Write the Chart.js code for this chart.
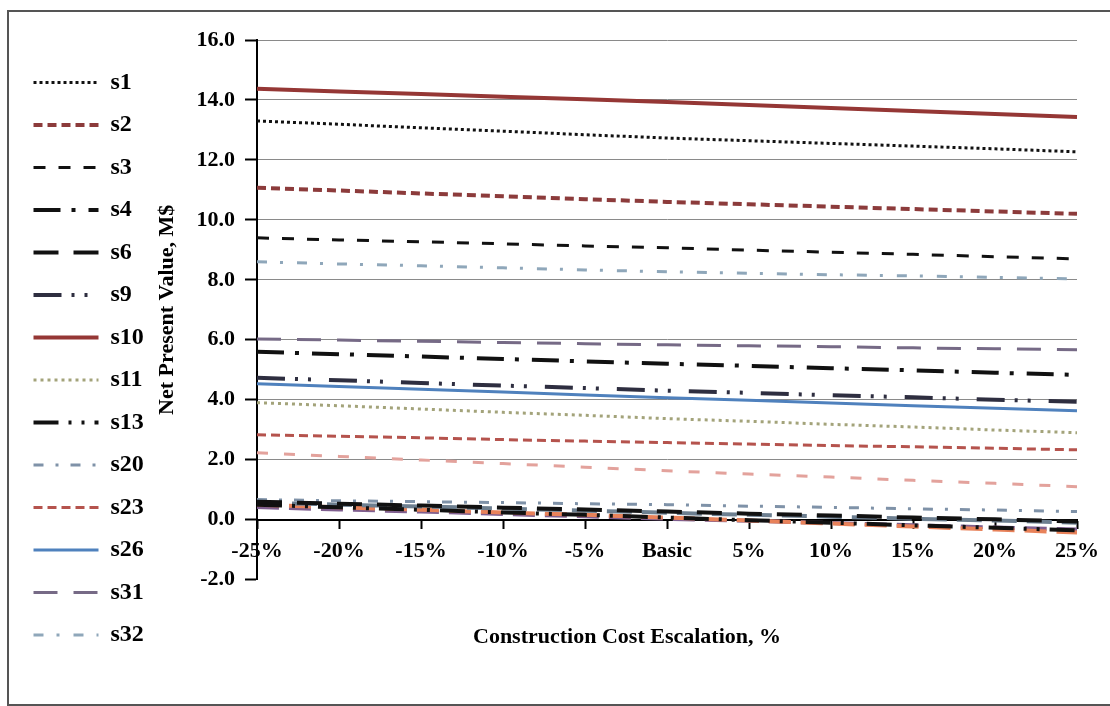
<!DOCTYPE html>
<html>
<head>
  <title>Net Present Value vs Construction Cost Escalation</title>
  <style>
    html, body {
      margin: 0;
      padding: 0;
      background: #fff;
      overflow: hidden;
    }
    .frame {
      position: absolute;
      left: 7px;
      top: 10px;
      width: 1300px;
      height: 696px;
      box-sizing: border-box;
      border: 2px solid #555;
    }
    .chart-box {
      position: absolute;
      left: 0;
      top: 0;
      width: 1110px;
      height: 706px;
    }
  </style>
</head>
<body>
  <div class="frame"></div>
  <div class="chart-box">
    <canvas id="npvChart"></canvas>
  </div>

  <script src="https://cdn.jsdelivr.net/npm/chart.js"></script>
  <script>
    // categories on the x axis
    const categories = ['-25%', '-20%', '-15%', '-10%', '-5%', 'Basic', '5%', '10%', '15%', '20%', '25%'];

    // y axis range (M$)
    const yMin = -2;
    const yMax = 16;
    const yStep = 2;

    // series values, M$
    const s1  = [13.30, 13.19, 13.07, 12.96, 12.84, 12.73, 12.64, 12.55, 12.46, 12.37, 12.27];
    const s2  = [11.07, 10.98, 10.88, 10.79, 10.69, 10.60, 10.52, 10.44, 10.36, 10.28, 10.20];
    const s3  = [9.40, 9.33, 9.27, 9.20, 9.13, 9.07, 8.99, 8.92, 8.85, 8.77, 8.70];
    const s4  = [5.60, 5.52, 5.44, 5.36, 5.28, 5.20, 5.13, 5.05, 4.98, 4.90, 4.83];
    const s6  = [0.60, 0.53, 0.47, 0.40, 0.34, 0.27, 0.20, 0.14, 0.07, 0.01, -0.06];
    const s9  = [4.73, 4.65, 4.56, 4.47, 4.39, 4.30, 4.23, 4.15, 4.08, 4.00, 3.93];
    const s10 = [14.37, 14.28, 14.20, 14.11, 14.02, 13.93, 13.83, 13.73, 13.63, 13.53, 13.43];
    const s11 = [3.90, 3.80, 3.69, 3.58, 3.48, 3.37, 3.28, 3.18, 3.09, 2.99, 2.90];
    const s13 = [0.50, 0.41, 0.33, 0.24, 0.16, 0.07, -0.02, -0.10, -0.19, -0.27, -0.36];
    const s20 = [0.67, 0.63, 0.60, 0.57, 0.53, 0.50, 0.45, 0.41, 0.36, 0.32, 0.27];
    const s23 = [2.83, 2.78, 2.73, 2.67, 2.62, 2.57, 2.52, 2.47, 2.43, 2.38, 2.33];
    const s26 = [4.53, 4.44, 4.35, 4.26, 4.16, 4.07, 3.98, 3.89, 3.80, 3.72, 3.63];
    const s31 = [6.03, 5.99, 5.95, 5.91, 5.87, 5.83, 5.80, 5.77, 5.73, 5.70, 5.67];
    const s32 = [8.60, 8.53, 8.47, 8.40, 8.33, 8.27, 8.22, 8.17, 8.13, 8.08, 8.03];

    // lines drawn in the plot that have no legend entry
    const unlistedPink   = [2.23, 2.11, 1.99, 1.87, 1.75, 1.63, 1.52, 1.42, 1.31, 1.21, 1.10];
    const unlistedGrey   = [0.57, 0.50, 0.44, 0.37, 0.30, 0.23, 0.16, 0.10, 0.03, -0.03, -0.10];
    const unlistedOrange = [0.50, 0.41, 0.33, 0.24, 0.16, 0.07, -0.03, -0.13, -0.23, -0.33, -0.43];
    const unlistedPurple = [0.42, 0.34, 0.27, 0.19, 0.11, 0.03, -0.04, -0.11, -0.19, -0.26, -0.33];

    const serif = "'Liberation Serif', 'Times New Roman', serif";

    function line(label, data, color, width, dash) {
      return {
        label: label,
        data: data,
        borderColor: color,
        backgroundColor: color,
        borderWidth: width,
        borderDash: dash,
        pointRadius: 0,
        fill: false,
        tension: 0
      };
    }

    const datasets = [
      line('s1', s1, '#111111', 3, [3, 3]),
      line('s2', s2, '#8c3b3b', 4, [9, 5]),
      line('s3', s3, '#111111', 3, [12, 13]),
      line('s4', s4, '#111111', 4, [27, 11, 4, 13]),
      line('s6', s6, '#111111', 4, [25, 15]),
      line('s9', s9, '#2e2e40', 4, [28, 10, 3, 10, 3, 18]),
      line('s10', s10, '#953735', 4, []),
      line('s11', s11, '#a3a37a', 3, [3, 4]),
      line('s13', s13, '#111111', 4, [25, 10, 3, 10, 3, 10]),
      line('s20', s20, '#7f92a8', 3, [10, 12, 3, 12]),
      line('s23', s23, '#b5534d', 3, [9, 5]),
      line('s26', s26, '#4f81bd', 3, []),
      line('s31', s31, '#766a86', 3, [24, 16]),
      line('s32', s32, '#8fa7ba', 3, [10, 13, 3, 14]),
      line('', unlistedPink, '#e3a29c', 3, [11, 16]),
      line('', unlistedGrey, '#6d7f90', 4, [25, 10]),
      line('', unlistedOrange, '#e8825a', 4, [22, 10]),
      line('', unlistedPurple, '#7f5f8f', 4, [22, 10])
    ];

    // the x axis title in the original sits a bit left of the plot centre
    const shiftTitle = {
      id: 'shiftTitle',
      afterLayout(chart) {
        const t = chart.titleBlock;
        if (t) {
          t.left -= 40;
          t.right -= 40;
        }
      }
    };

    new Chart(document.getElementById('npvChart'), {
      type: 'line',
      data: {
        labels: categories,
        datasets: datasets
      },
      options: {
        responsive: true,
        maintainAspectRatio: false,
        animation: false,
        layout: {
          padding: { left: 15, top: 40, right: 33, bottom: 0 }
        },
        plugins: {
          tooltip: { enabled: false },
          title: {
            display: true,
            position: 'bottom',
            fullSize: false,
            text: 'Construction Cost Escalation, %',
            color: '#000',
            font: { family: serif, size: 22, weight: 'bold' },
            padding: { top: 45, bottom: 55 }
          },
          legend: {
            position: 'left',
            align: 'start',
            title: { display: true, text: ' ', font: { size: 5 }, padding: { top: 0, bottom: 6 } },
            labels: {
              usePointStyle: true,
              pointStyle: 'line',
              pointStyleWidth: 65,
              padding: 18.5,
              color: '#000',
              font: { family: serif, size: 24, weight: 'bold' },
              filter: item => item.text !== '',
              generateLabels(chart) {
                const items = Chart.defaults.plugins.legend.labels.generateLabels(chart);
                items.forEach(item => {
                  const ds = chart.data.datasets[item.datasetIndex];
                  item.lineDash = ds.borderDash;
                  item.strokeStyle = ds.borderColor;
                  item.lineWidth = ds.borderWidth;
                });
                return items;
              }
            }
          }
        },
        scales: {
          x: {
            position: { y: 0 },
            offset: false,
            grid: {
              drawOnChartArea: false,
              drawTicks: true,
              tickLength: 8,
              tickColor: '#000',
              tickWidth: 2
            },
            border: { color: '#000', width: 2 },
            ticks: {
              color: '#000',
              padding: 10,
              maxRotation: 0,
              autoSkip: false,
              font: { family: serif, size: 22, weight: 'bold' }
            }
          },
          y: {
            min: yMin,
            max: yMax,
            afterFit(scale) {
              scale.width = 257 - 15 - scale.chart.legend.width;
            },
            grid: {
              color: ctx => (ctx.tick && (ctx.tick.value === yMin || ctx.tick.value === 0)) ? 'rgba(0,0,0,0)' : '#8a8a8a',
              lineWidth: 1,
              tickLength: 12,
              tickColor: '#000',
              tickWidth: 2
            },
            border: { color: '#000', width: 2 },
            ticks: {
              stepSize: yStep,
              color: '#000',
              padding: 10,
              font: { family: serif, size: 22, weight: 'bold' },
              callback: v => Number(v).toFixed(1)
            },
            title: {
              display: true,
              text: 'Net Present Value, M$',
              color: '#000',
              padding: { top: 0, bottom: 0 },
              font: { family: serif, size: 22, weight: 'bold' }
            }
          }
        }
      },
      plugins: [shiftTitle]
    });
  </script>
</body>
</html>
